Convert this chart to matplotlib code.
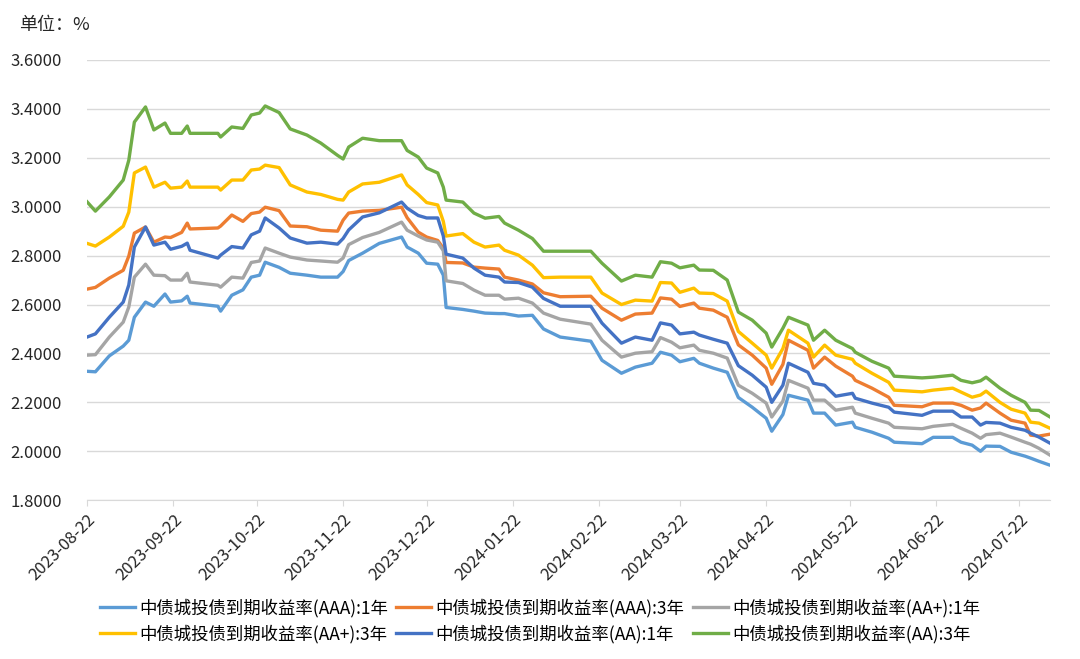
import matplotlib
matplotlib.use("Agg")
import matplotlib.pyplot as plt
import matplotlib.dates as mdates
import pandas as pd

plt.rcParams["font.family"] = ["Noto Sans CJK SC", "DejaVu Sans"]

# 数据
dates = [
    "2023-08-22", "2023-08-25", "2023-08-30", "2023-09-04", "2023-09-06", "2023-09-08",
    "2023-09-12", "2023-09-15", "2023-09-19", "2023-09-21", "2023-09-25", "2023-09-27",
    "2023-09-28", "2023-10-08", "2023-10-09", "2023-10-13", "2023-10-17", "2023-10-20",
    "2023-10-23", "2023-10-25", "2023-10-30", "2023-11-03", "2023-11-09", "2023-11-14",
    "2023-11-20", "2023-11-22", "2023-11-24", "2023-11-29", "2023-12-05", "2023-12-13",
    "2023-12-15", "2023-12-19", "2023-12-22", "2023-12-26", "2023-12-28", "2023-12-29",
    "2024-01-04", "2024-01-08", "2024-01-12", "2024-01-17", "2024-01-19", "2024-01-24",
    "2024-01-29", "2024-02-02", "2024-02-08", "2024-02-19", "2024-02-23", "2024-03-01",
    "2024-03-06", "2024-03-12", "2024-03-15", "2024-03-19", "2024-03-22", "2024-03-27",
    "2024-03-29", "2024-04-03", "2024-04-08", "2024-04-12", "2024-04-17", "2024-04-22",
    "2024-04-24", "2024-04-28", "2024-04-30", "2024-05-07", "2024-05-09", "2024-05-13",
    "2024-05-17", "2024-05-23", "2024-05-24", "2024-05-30", "2024-06-05", "2024-06-07",
    "2024-06-17", "2024-06-21", "2024-06-28", "2024-07-01", "2024-07-05", "2024-07-08",
    "2024-07-10", "2024-07-15", "2024-07-19", "2024-07-24", "2024-07-26", "2024-07-29",
    "2024-08-02",
]

aa_3y = [
    3.020, 2.982, 3.040, 3.109, 3.190, 3.346, 3.408, 3.314, 3.342, 3.300, 3.300, 3.330,
    3.300, 3.300, 3.285, 3.326, 3.320, 3.375, 3.383, 3.412, 3.385, 3.318, 3.293, 3.260,
    3.210, 3.195, 3.244, 3.280, 3.270, 3.270, 3.230, 3.203, 3.158, 3.138, 3.080, 3.027,
    3.019, 2.974, 2.953, 2.960, 2.933, 2.904, 2.870, 2.818, 2.818, 2.818, 2.769, 2.696,
    2.720, 2.712, 2.775, 2.769, 2.750, 2.761, 2.741, 2.740, 2.700, 2.569, 2.536, 2.483,
    2.426, 2.503, 2.548, 2.516, 2.454, 2.495, 2.454, 2.420, 2.405, 2.368, 2.340, 2.307,
    2.300, 2.303, 2.311, 2.290, 2.280, 2.288, 2.303, 2.258, 2.229, 2.200, 2.168, 2.167,
    2.140,
]
aap_3y = [
    2.850, 2.839, 2.876, 2.920, 2.978, 3.138, 3.162, 3.080, 3.100, 3.076, 3.080, 3.105,
    3.080, 3.080, 3.068, 3.109, 3.109, 3.150, 3.154, 3.170, 3.160, 3.089, 3.060, 3.050,
    3.030, 3.027, 3.060, 3.093, 3.100, 3.130, 3.089, 3.050, 3.017, 3.007, 2.940, 2.880,
    2.890, 2.855, 2.835, 2.843, 2.822, 2.802, 2.761, 2.710, 2.712, 2.712, 2.647, 2.600,
    2.618, 2.614, 2.690, 2.688, 2.650, 2.667, 2.647, 2.645, 2.614, 2.490, 2.442, 2.393,
    2.340, 2.420, 2.495, 2.442, 2.385, 2.434, 2.393, 2.376, 2.360, 2.319, 2.282, 2.250,
    2.243, 2.250, 2.258, 2.242, 2.221, 2.230, 2.246, 2.200, 2.172, 2.156, 2.119, 2.115,
    2.094,
]
aaa_3y = [
    2.663, 2.670, 2.708, 2.740, 2.798, 2.892, 2.917, 2.855, 2.876, 2.874, 2.895, 2.933,
    2.909, 2.913, 2.921, 2.966, 2.940, 2.972, 2.978, 2.998, 2.984, 2.921, 2.918, 2.904,
    2.900, 2.945, 2.974, 2.982, 2.985, 2.998, 2.955, 2.896, 2.876, 2.862, 2.830, 2.772,
    2.770, 2.753, 2.749, 2.745, 2.712, 2.700, 2.684, 2.648, 2.632, 2.634, 2.585, 2.536,
    2.561, 2.565, 2.627, 2.622, 2.592, 2.606, 2.585, 2.577, 2.548, 2.435, 2.393, 2.340,
    2.274, 2.355, 2.454, 2.413, 2.340, 2.385, 2.348, 2.307, 2.290, 2.258, 2.221, 2.188,
    2.182, 2.197, 2.197, 2.188, 2.168, 2.177, 2.197, 2.156, 2.127, 2.115, 2.066, 2.062,
    2.070,
]
aa_1y = [
    2.467, 2.480, 2.548, 2.610, 2.680, 2.835, 2.917, 2.843, 2.855, 2.826, 2.838, 2.851,
    2.822, 2.790, 2.802, 2.837, 2.831, 2.885, 2.900, 2.954, 2.913, 2.872, 2.851, 2.855,
    2.847, 2.870, 2.905, 2.958, 2.975, 3.019, 2.994, 2.964, 2.954, 2.954, 2.880, 2.806,
    2.790, 2.749, 2.720, 2.712, 2.692, 2.690, 2.671, 2.625, 2.593, 2.593, 2.524, 2.442,
    2.467, 2.454, 2.525, 2.516, 2.480, 2.487, 2.475, 2.458, 2.442, 2.350, 2.311, 2.262,
    2.200, 2.270, 2.360, 2.323, 2.278, 2.270, 2.225, 2.237, 2.217, 2.197, 2.180, 2.160,
    2.147, 2.164, 2.164, 2.140, 2.140, 2.107, 2.118, 2.115, 2.098, 2.086, 2.074, 2.058,
    2.033,
]
aap_1y = [
    2.393, 2.395, 2.467, 2.528, 2.590, 2.712, 2.765, 2.720, 2.718, 2.700, 2.700, 2.728,
    2.692, 2.679, 2.671, 2.712, 2.708, 2.772, 2.778, 2.831, 2.810, 2.794, 2.782, 2.778,
    2.773, 2.790, 2.845, 2.874, 2.895, 2.937, 2.904, 2.880, 2.864, 2.855, 2.820, 2.697,
    2.686, 2.659, 2.638, 2.638, 2.622, 2.626, 2.606, 2.565, 2.540, 2.520, 2.454, 2.385,
    2.401, 2.407, 2.465, 2.446, 2.423, 2.434, 2.413, 2.401, 2.381, 2.270, 2.237, 2.197,
    2.140, 2.205, 2.290, 2.258, 2.209, 2.209, 2.168, 2.180, 2.156, 2.135, 2.115, 2.098,
    2.092, 2.102, 2.110, 2.094, 2.074, 2.053, 2.068, 2.074, 2.058, 2.037, 2.029, 2.012,
    1.984,
]
aaa_1y = [
    2.327, 2.325, 2.390, 2.430, 2.454, 2.548, 2.610, 2.593, 2.643, 2.610, 2.615, 2.634,
    2.606, 2.593, 2.573, 2.638, 2.660, 2.712, 2.720, 2.773, 2.752, 2.728, 2.720, 2.712,
    2.712, 2.735, 2.780, 2.810, 2.850, 2.876, 2.835, 2.810, 2.769, 2.765, 2.720, 2.588,
    2.580, 2.573, 2.565, 2.563, 2.563, 2.553, 2.556, 2.500, 2.467, 2.450, 2.372, 2.319,
    2.344, 2.360, 2.405, 2.393, 2.366, 2.380, 2.360, 2.340, 2.323, 2.220, 2.180, 2.135,
    2.082, 2.150, 2.229, 2.209, 2.156, 2.156, 2.107, 2.119, 2.098, 2.078, 2.053, 2.037,
    2.031, 2.057, 2.057, 2.037, 2.025, 2.000, 2.021, 2.020, 1.996, 1.980, 1.972, 1.959,
    1.943,
]

labels = [
    "中债城投债到期收益率(AAA):1年",
    "中债城投债到期收益率(AAA):3年",
    "中债城投债到期收益率(AA+):1年",
    "中债城投债到期收益率(AA+):3年",
    "中债城投债到期收益率(AA):1年",
    "中债城投债到期收益率(AA):3年",
]
series = [aaa_1y, aaa_3y, aap_1y, aap_3y, aa_1y, aa_3y]
colors = ["#5B9BD5", "#ED7D31", "#A5A5A5", "#FFC000", "#4472C4", "#70AD47"]

tick_dates = pd.date_range("2023-08-01", "2024-07-01", freq="MS") + pd.Timedelta(days=21)
y_ticks = [1.8, 2.0, 2.2, 2.4, 2.6, 2.8, 3.0, 3.2, 3.4, 3.6]

x = pd.to_datetime(dates)

fig = plt.figure(figsize=(10.8, 6.59), dpi=100)
ax = fig.add_axes([0.0806, 0.241, 0.8917, 0.668])

handles = []
for vals, lab, col in zip(series, labels, colors):
    h, = ax.plot(x, vals, color=col, linewidth=2.4, label=lab, solid_joinstyle="round")
    handles.append(h)

ax.set_ylim(1.8, 3.6)
ax.set_yticks(y_ticks)
ax.set_yticklabels([f"{v:.4f}" for v in y_ticks], fontsize=12)
ax.set_xlim(pd.Timestamp("2023-08-22"), pd.Timestamp("2024-08-02"))
ax.set_xticks(tick_dates)
ax.xaxis.set_major_formatter(mdates.DateFormatter("%Y-%m-%d"))
plt.setp(ax.get_xticklabels(), rotation=45, ha="right", rotation_mode="anchor", fontsize=12)

ax.grid(axis="y", color="#d9d9d9", linewidth=1)
ax.set_axisbelow(True)
for s in ["top", "right", "left"]:
    ax.spines[s].set_visible(False)
ax.spines["bottom"].set_color("#d9d9d9")
ax.tick_params(axis="y", length=0, pad=18, colors="#262626")
ax.tick_params(axis="x", length=4, color="#d9d9d9", colors="#262626", pad=4)

fig.text(0.018, 0.962, "单位：%", fontsize=13, color="#262626", va="center")

order = [0, 3, 1, 4, 2, 5]
fig.legend([handles[i] for i in order], [labels[i] for i in order],
           loc="center", bbox_to_anchor=(0.5, 0.058), ncol=3, frameon=False,
           fontsize=12.5, handlelength=2.0, handletextpad=0.25, columnspacing=0.5,
           labelspacing=0.4)

fig.savefig("out.png", dpi=100)
